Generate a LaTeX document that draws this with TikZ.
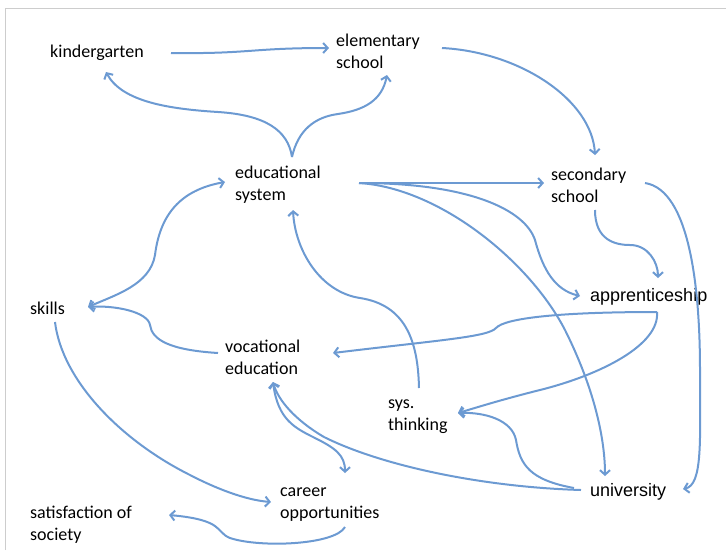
\documentclass[tikz,border=0pt]{standalone}
\usepackage{fontspec}
\setmainfont{Carlito}
\newfontfamily\arialfont{Liberation Sans}
\usetikzlibrary{arrows.meta,calc}
\definecolor{linkblue}{RGB}{108,154,210}
\definecolor{framegray}{RGB}{205,205,205}
\tikzset{
  lbl/.style={anchor=west,inner sep=0pt,align=left,font=\fontsize{18}{22}\selectfont,text=black},
  albl/.style={lbl,font=\fontsize{18}{22}\selectfont\arialfont},
  link/.style={draw=linkblue,line width=2pt,-{Straight Barb[length=4.5pt,width=10pt]}},
  blink/.style={draw=linkblue,line width=2pt,{Straight Barb[length=4.5pt,width=10pt]}-{Straight Barb[length=4.5pt,width=10pt]}}
}
\begin{document}
\begin{tikzpicture}[x=1pt,y=-1pt]
\useasboundingbox (0,0) rectangle (726,550);
\draw[framegray,line width=1pt] (5,550) -- (5,8) -- (726,8);
% nodes
\node[lbl] (kg) at (50,53) {kindergarten};
\node[lbl] (elem) at (336,51) {elementary\\school};
\node[lbl] (edu) at (235,185) {educational\\system};
\node[lbl] (sec) at (551,185) {secondary\\school};
\node[albl] (app) at (590,297) {apprenticeship};
\node[lbl] (skills) at (30,308) {skills};
\node[lbl] (voc) at (225,357) {vocational\\education};
\node[lbl] (sys) at (388,417) {sys.\\thinking};
\node[albl] (uni) at (590,492) {university};
\node[lbl] (career) at (280,505) {career\\opportunities};
\node[lbl] (sat) at (30,525) {satisfaction of\\society};
% connectors
\draw[link] ($(kg.west)+(121,0)$) .. controls (250,54) and (250,48) .. ($(elem.west)+(-7,-3)$);
\coordinate (fork) at ($(edu.west)+(57,-28)$);
\draw[link] (fork) .. controls (288,130) and (265,115) .. (218,112) .. controls (170,109) and (122,102) .. ($(kg.west)+(56,19)$);
\draw[link] (fork) .. controls (298,130) and (315,117) .. (338,114) .. controls (365,110) and (382,100) .. ($(elem.west)+(51,24)$);
\draw[link] ($(elem.west)+(106,-3)$) .. controls (520,52) and (592,100) .. ($(sec.west)+(44,-30)$);
\draw[link] ($(edu.west)+(124,-2)$) -- ($(sec.west)+(-7,-2)$);
\draw[link] ($(edu.west)+(124,-2)$) .. controls (470,183) and (525,210) .. (535,240) .. controls (543,270) and (555,290) .. ($(app.west)+(-10,-1)$);
\draw[link] ($(edu.west)+(124,-2)$) .. controls (440,188) and (530,262) .. (565,330) .. controls (595,390) and (605,440) .. ($(uni.west)+(15,-16)$);
\draw[link] ($(sec.west)+(44,25)$) .. controls (595,240) and (615,245) .. (630,245) .. controls (648,245) and (658,262) .. ($(app.west)+(68,-19)$);
\draw[link] ($(sec.west)+(94,-2)$) .. controls (690,190) and (700,290) .. (700,370) .. controls (700,440) and (703,485) .. ($(uni.west)+(93,-3)$);
\coordinate (appout) at ($(app.west)+(67,15)$);
\draw[link] (appout) .. controls (560,312) and (505,318) .. (496,328) .. controls (488,337) and (440,340) .. ($(voc.west)+(108,-4)$);
\coordinate (systip) at ($(sys.west)+(70,-4)$);
\draw[link] (appout) .. controls (660,345) and (600,375) .. (540,390) .. controls (500,400) and (475,408) .. (systip);
\draw[link] ($(uni.west)+(-16,-4)$) .. controls (530,480) and (520,465) .. (516,440) .. controls (512,420) and (485,412) .. (systip);
\coordinate (voctip) at ($(voc.west)+(48,25)$);
\draw[link] ($(uni.west)+(-9,-2)$) .. controls (480,487) and (380,465) .. (324,437) .. controls (295,420) and (278,400) .. (voctip);
\draw[blink] (voctip) .. controls (278,420) and (295,428) .. (315,438) .. controls (335,448) and (345,455) .. ($(career.west)+(65,-32)$);
\coordinate (skilltip) at ($(skills.west)+(58,-1)$);
\draw[link] ($(voc.west)+(-7,-4)$) .. controls (170,350) and (152,340) .. (150,325) .. controls (148,312) and (115,305) .. (skilltip);
\draw[blink] (skilltip) .. controls (115,295) and (150,285) .. (155,255) .. controls (160,215) and (180,190) .. ($(edu.west)+(-10,-3)$);
\draw[link] ($(sys.west)+(31,-29)$) .. controls (418,340) and (405,305) .. (360,298) .. controls (320,292) and (295,250) .. ($(edu.west)+(58,25)$);
\draw[link] ($(skills.west)+(25,14)$) .. controls (62,380) and (120,440) .. (190,475) .. controls (215,488) and (245,500) .. ($(career.west)+(-9,-3)$);
\draw[link] ($(career.west)+(65,22)$) .. controls (335,545) and (260,548) .. (230,538) .. controls (215,532) and (225,520) .. ($(sat.west)+(139,-10)$);
\end{tikzpicture}
\end{document}
